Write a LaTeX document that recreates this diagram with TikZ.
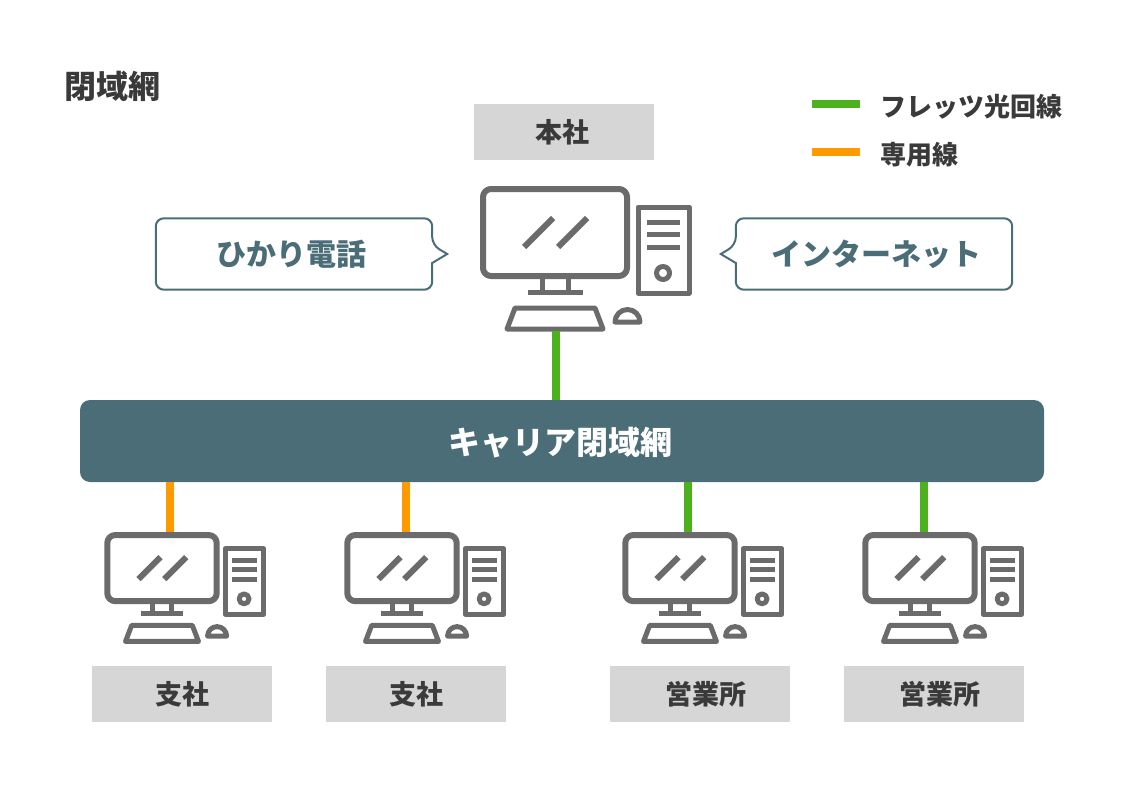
\documentclass[tikz,border=0pt]{standalone}
\usepackage{fontspec}
\usepackage{xcolor}
\setmainfont{Noto Sans CJK JP}
\usetikzlibrary{positioning, calc}
\definecolor{netteal}{HTML}{4A6D77}
\definecolor{netgreen}{HTML}{4CB11C}
\definecolor{netorange}{HTML}{FF9900}
\definecolor{netgray}{HTML}{D6D6D6}
\definecolor{pcgray}{HTML}{6B6B6B}
\definecolor{txtdark}{HTML}{3A3A3A}
\tikzset{
  tsite/.style={fill=netgray, text=txtdark, minimum width=180pt, minimum height=56pt, inner sep=0pt, font=\fontsize{27}{30}\selectfont\bfseries},
  tbubble/.style={text=netteal, minimum width=276pt, minimum height=71pt, inner sep=0pt, font=\fontsize{30}{34}\selectfont\bfseries},
  toutline/.style={draw=netteal, line width=2pt, fill=white, line join=miter},
  tbar/.style={fill=netteal, text=white, rounded corners=10pt, minimum width=964pt, minimum height=82pt, inner sep=0pt, font=\fontsize{32}{36}\selectfont\bfseries},
  tfiber/.style={netgreen, line width=8pt},
  tleased/.style={netorange, line width=8pt},
  tlbl/.style={text=txtdark, inner sep=0pt, font=\fontsize{26}{30}\selectfont\bfseries},
  pcline/.style={draw=pcgray, line width=#1, line join=round},
  pics/pc/.style={code={
    \coordinate (-top) at (#1,0);
    \coordinate (-bottom) at (#1,146);
    \draw[pcline=6pt, rounded corners=8pt] (3,4) rectangle (147,91);
    \draw[pcline=6pt] (44,62) -- (73,33) (78,62) -- (107,33);
    \draw[pcline=5pt] (62,92) -- (62,107) (88,92) -- (88,107) (48,107) -- (103,107);
    \draw[pcline=5pt] (35,123) -- (115,123) -- (123,144) -- (27,144) -- cycle;
    \draw[pcline=5pt] (135,137) arc[start angle=180, end angle=360, radius=12.5] -- cycle;
    \draw[pcline=5pt] (158,22) rectangle (209,108);
    \draw[pcline=5pt] (167,37) -- (200,37) (167,49.5) -- (200,49.5) (167,62) -- (200,62);
    \draw[pcline=5pt] (183,88) circle[radius=6.5];
  }},
}
\begin{document}
\begin{tikzpicture}[x=1pt, y=-1pt]
  \useasboundingbox (0,0) rectangle (1130,800);
  \node[text=txtdark, inner sep=0pt, anchor=west, font=\fontsize{32}{36}\selectfont\bfseries] (title) at (64,86.5) {閉域網};
  \node[tbar] (carrier) at (562,441) {};
  \node[text=white, inner sep=0pt, font=\fontsize{32}{36}\selectfont\bfseries] (carriertext) at (560,442.5) {キャリア閉域網};
  % head office
  \node[tsite] (honsha) at (564,132) {\hspace*{-4pt}本社};
  \pic (pchq) at (480,185) {pc=76};
  \draw[tfiber] (pchq-bottom) -- (pchq-bottom |- carrier.north);
  % speech bubbles
  \node[tbubble] (phone) at (294,254) {};
  \draw[toutline, rounded corners=8pt] (phone.north west) -- (phone.north east) -- ($(phone.east)+(0,-9)$) [sharp corners] -- ($(phone.east)+(15,0)$) -- ($(phone.east)+(0,9)$) [rounded corners=8pt] -- (phone.south east) -- (phone.south west) -- cycle;
  \node[tbubble] (phonetext) at (291,254.5) {ひかり電話};
  \node[tbubble] (inet) at (874,254) {};
  \draw[toutline, rounded corners=8pt] (inet.north east) -- (inet.north west) -- ($(inet.west)+(0,-9)$) [sharp corners] -- ($(inet.west)+(-15,0)$) -- ($(inet.west)+(0,9)$) [rounded corners=8pt] -- (inet.south west) -- (inet.south east) -- cycle;
  \node[tbubble] (inettext) at (876,254.5) {インターネット};
  % branches
  \pic[scale=0.76] (pca) at (105,532) {pc=85};
  \pic[scale=0.76] (pcb) at (345,532) {pc=80};
  \pic[scale=0.76] (pcc) at (623,532) {pc=86};
  \pic[scale=0.76] (pcd) at (863,532) {pc=80};
  \draw[tleased] (carrier.south -| pca-top) -- (pca-top);
  \draw[tleased] (carrier.south -| pcb-top) -- (pcb-top);
  \draw[tfiber] (carrier.south -| pcc-top) -- (pcc-top);
  \draw[tfiber] (carrier.south -| pcd-top) -- (pcd-top);
  \node[tsite] (shisha1) at (182,694) {支社};
  \node[tsite] (shisha2) at (416,694) {支社};
  \node[tsite] (eigyo1) at (700,694) {\hspace*{12pt}営業所};
  \node[tsite] (eigyo2) at (934,694) {\hspace*{12pt}営業所};
  % legend
  \coordinate (keya) at (812,104);
  \coordinate (keyb) at (860,104);
  \coordinate (keyc) at (812,152);
  \coordinate (keyd) at (860,152);
  \draw[tfiber] (keya) -- (keyb);
  \draw[tleased] (keyc) -- (keyd);
  \node[tlbl, anchor=west] (lblfiber) at (880,106.5) {フレッツ光回線};
  \node[tlbl, anchor=west] (lblleased) at (880,154.5) {専用線};
\end{tikzpicture}
\end{document}
